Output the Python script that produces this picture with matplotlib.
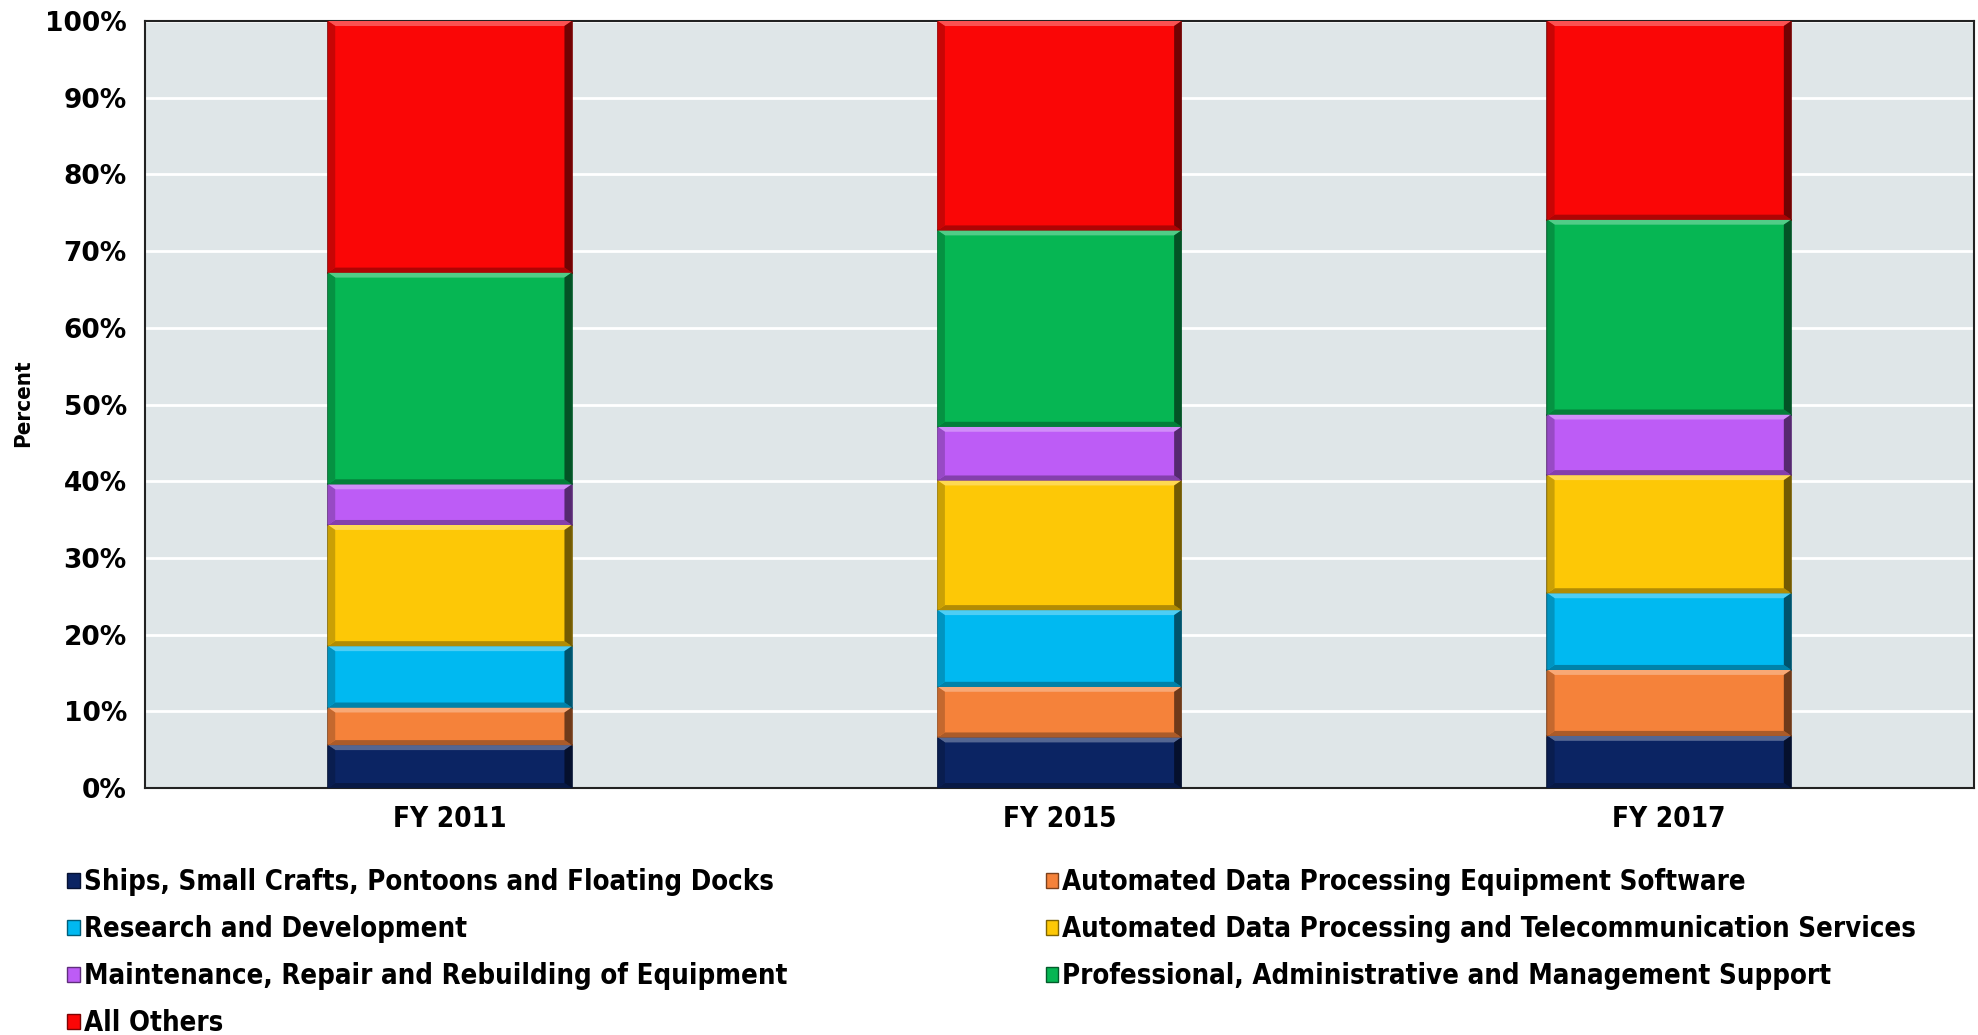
import numpy as np
import matplotlib.pyplot as plt
from matplotlib.patches import Patch, Polygon
from matplotlib.colors import to_rgb

# Share of obligations by category (percent)
years = ['FY 2011', 'FY 2015', 'FY 2017']
ships = [5.6, 6.6, 6.8]
adp_software = [4.9, 6.6, 8.6]
research = [8.0, 10.0, 10.0]
adp_telecom = [15.8, 16.9, 15.4]
maintenance = [5.3, 7.0, 7.9]
professional = [27.6, 25.6, 25.4]
all_others = [32.8, 27.3, 25.9]

series = [
    ('Ships, Small Crafts, Pontoons and Floating Docks', ships, '#0b2463'),
    ('Automated Data Processing Equipment Software', adp_software, '#f5823a'),
    ('Research and Development', research, '#00b9f1'),
    ('Automated Data Processing and Telecommunication Services', adp_telecom, '#fdc806'),
    ('Maintenance, Repair and Rebuilding of Equipment', maintenance, '#bd5cf6'),
    ('Professional, Administrative and Management Support', professional, '#06b653'),
    ('All Others', all_others, '#fa0606'),
]

def shade(c, f):
    rgb = np.array(to_rgb(c))
    if f >= 0:
        return tuple(rgb + (1 - rgb) * f)
    return tuple(rgb * (1 + f))

def bevel(ax, rect, col, bx=0.012, by=0.65):
    # fake the beveled look of the original bars
    x0, y0 = rect.get_x(), rect.get_y()
    x1, y1 = x0 + rect.get_width(), y0 + rect.get_height()
    by = min(by, rect.get_height() / 3)
    faces = [
        ([(x0, y1), (x1, y1), (x1 - bx, y1 - by), (x0 + bx, y1 - by)], shade(col, 0.3)),
        ([(x0, y0), (x1, y0), (x1 - bx, y0 + by), (x0 + bx, y0 + by)], shade(col, -0.3)),
        ([(x1, y0), (x1, y1), (x1 - bx, y1 - by), (x1 - bx, y0 + by)], shade(col, -0.55)),
        ([(x0, y0), (x0, y1), (x0 + bx, y1 - by), (x0 + bx, y0 + by)], shade(col, -0.2)),
    ]
    for pts, fc in faces:
        ax.add_patch(Polygon(pts, closed=True, facecolor=fc, edgecolor='none', zorder=4))

narrow = ['DejaVu Sans Condensed', 'DejaVu Sans']

fig = plt.figure(figsize=(19.78, 10.35), dpi=100)
ax = fig.add_axes([0.0733, 0.2386, 0.9247, 0.7411])
ax.set_facecolor('#dfe6e8')

x = np.arange(len(years))
bottom = np.zeros(len(years))
handles = {}
for name, vals, col in series:
    vals = np.array(vals)
    bars = ax.bar(x, vals, 0.4, bottom=bottom, color=col,
                  edgecolor=shade(col, -0.5), linewidth=1.2, zorder=3)
    for r in bars:
        bevel(ax, r, col)
    bottom += vals
    handles[name] = Patch(facecolor=col, edgecolor=shade(col, -0.5), linewidth=1)

ax.set_xlim(-0.5, 2.5)
ax.set_ylim(0, 100)
ax.set_yticks(np.arange(0, 101, 10))
ax.set_yticklabels([f'{v}%' for v in range(0, 101, 10)],
                   fontsize=19, fontweight='bold', family='DejaVu Sans')
ax.set_xticks(x)
ax.set_xticklabels(years, fontsize=20, fontweight='bold', family=narrow,
                   fontstretch='condensed')
ax.tick_params(axis='y', length=0, pad=13)
ax.tick_params(axis='x', length=0, pad=12)
ax.grid(axis='y', color='white', linewidth=2, zorder=1)
for s in ax.spines.values():
    s.set_color('#222222')
    s.set_linewidth(1.5)

fig.text(0.0116, 0.61, 'Percent', rotation=90, ha='center', va='center',
         fontsize=16, fontweight='bold', family=narrow, fontstretch='condensed')

order = [series[i][0] for i in (0, 2, 4, 6, 1, 3, 5)]
leg = fig.legend([handles[n] for n in order], order, ncol=2, loc='upper left',
                 bbox_to_anchor=(0.034, 0.161), frameon=False,
                 prop={'family': narrow, 'weight': 'bold', 'size': 19.8,
                       'stretch': 'condensed'},
                 handlelength=0.45, handleheight=0.45, handletextpad=0.15,
                 labelspacing=0.69, columnspacing=9.4, borderpad=0,
                 borderaxespad=0)

fig.savefig('out.png', dpi=100)
